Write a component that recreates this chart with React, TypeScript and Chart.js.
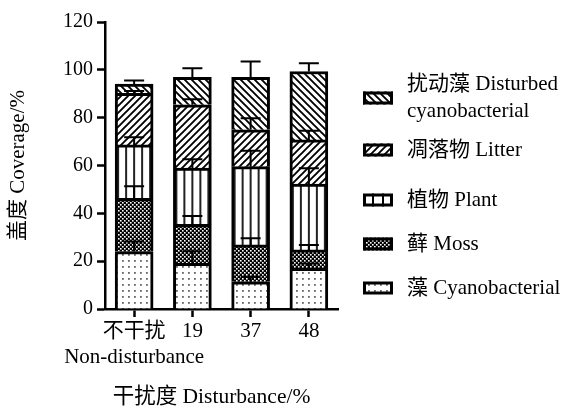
import React, { useEffect, useRef } from 'react';
import { Chart, registerables } from 'chart.js';

Chart.register(...registerables);

const categories: (string | string[])[] = [['不干扰', 'Non-disturbance'], '19', '37', '48'];
const seriesNames = ['藻 Cyanobacterial', '藓 Moss', '植物 Plant', '凋落物 Litter', '扰动藻 Disturbed cyanobacterial'];
const legendLines: string[][] = [
  ['扰动藻 Disturbed', 'cyanobacterial'],
  ['凋落物 Litter'],
  ['植物 Plant'],
  ['藓 Moss'],
  ['藻 Cyanobacterial'],
];
const xTitle = '干扰度 Disturbance/%';
const yTitle = '盖度 Coverage/%';
const cyanobacterial = [24.0, 19.1, 11.4, 17.0];
const moss = [22.3, 16.3, 15.4, 7.7];
const plant = [22.3, 23.5, 32.7, 27.5];
const litter = [21.6, 26.5, 15.4, 18.5];
const disturbed = [3.8, 11.5, 22.0, 28.6];
const cyanobacterialErr = [4.2, 5.0, 2.0, 2.0];
const mossErr = [5.0, 3.5, 2.8, 2.1];
const plantErr = [3.2, 3.7, 6.7, 6.7];
const litterErr = [1.0, 2.3, 4.9, 3.8];
const disturbedErr = [1.5, 3.8, 6.6, 3.5];
const yMin = 0;
const yMax = 120;
const yStep = 20;

const FONT = "'Liberation Serif', 'Noto Sans CJK SC', serif";
const BAR_W = 38;

function tile(w: number, h: number, draw: (c: CanvasRenderingContext2D) => void) {
  const cv = document.createElement('canvas');
  cv.width = w;
  cv.height = h;
  const c = cv.getContext('2d')!;
  c.fillStyle = '#fff';
  c.fillRect(0, 0, w, h);
  draw(c);
  return cv;
}

function makeTiles() {
  const dots = tile(6, 6, (c) => {
    c.fillStyle = '#666';
    c.fillRect(2, 2, 1.8, 1.8);
  });
  const checker = tile(4, 4, (c) => {
    c.fillStyle = '#000';
    c.fillRect(0, 0, 4, 4);
    c.fillStyle = '#fff';
    c.fillRect(0, 0, 1.6, 1.6);
    c.fillRect(2, 2, 1.6, 1.6);
  });
  const vlines = tile(8, 4, (c) => {
    c.fillStyle = '#222';
    c.fillRect(0, 0, 2, 4);
  });
  const diag = (forward: boolean) =>
    tile(7, 7, (c) => {
      c.strokeStyle = '#000';
      c.lineWidth = 1.9;
      c.beginPath();
      if (forward) {
        c.moveTo(-1, 8); c.lineTo(8, -1);
        c.moveTo(-4, 4); c.lineTo(4, -4);
        c.moveTo(3, 11); c.lineTo(11, 3);
      } else {
        c.moveTo(-1, -1); c.lineTo(8, 8);
        c.moveTo(-4, 3); c.lineTo(4, 11);
        c.moveTo(3, -4); c.lineTo(11, 4);
      }
      c.stroke();
    });
  return { dots, checker, vlines, fwd: diag(true), back: diag(false) };
}

const errorBarPlugin = {
  id: 'errorBars',
  afterDatasetsDraw(chart: any) {
    const ctx = chart.ctx;
    const y = chart.scales.y;
    ctx.save();
    ctx.strokeStyle = '#000';
    ctx.lineWidth = 2;
    chart.data.datasets.forEach((ds: any, i: number) => {
      const meta = chart.getDatasetMeta(i);
      meta.data.forEach((el: any, j: number) => {
        let cum = 0;
        for (let k = 0; k <= i; k++) cum += chart.data.datasets[k].data[j];
        const top = y.getPixelForValue(cum + ds.errors[j]);
        ctx.beginPath();
        ctx.moveTo(el.x, el.y);
        ctx.lineTo(el.x, top);
        ctx.moveTo(el.x - 10, top);
        ctx.lineTo(el.x + 10, top);
        ctx.stroke();
      });
    });
    ctx.restore();
  },
};

const xTitlePlugin = {
  id: 'xTitle',
  afterDraw(chart: any, _args: any, opts: any) {
    const ctx = chart.ctx;
    const a = chart.chartArea;
    ctx.save();
    ctx.font = `${opts.fontSize}px ${FONT}`;
    ctx.fillStyle = '#000';
    ctx.textAlign = 'center';
    ctx.textBaseline = 'middle';
    ctx.fillText(opts.text, (a.left + a.right) / 2 + opts.dx, opts.y);
    ctx.restore();
  },
};

const legendPlugin = {
  id: 'customLegend',
  afterDraw(chart: any, _args: any, opts: any) {
    const ctx = chart.ctx;
    const n = chart.data.datasets.length;
    ctx.save();
    ctx.font = `${opts.fontSize}px ${FONT}`;
    ctx.textBaseline = 'middle';
    ctx.fillStyle = '#000';
    for (let r = 0; r < n; r++) {
      const dsIndex = n - 1 - r;
      const ds = chart.data.datasets[dsIndex];
      const cy = opts.rows[r];
      const bx = opts.boxX, bw = opts.boxW, bh = opts.boxH;
      const by = cy - bh / 2;
      ctx.fillStyle = '#fff';
      ctx.fillRect(bx, by, bw, bh);
      if (ds.legendFill === 'cells') {
        ctx.fillStyle = '#000';
        ctx.fillRect(bx + bw / 3 - 1, by, 2, bh);
        ctx.fillRect(bx + (2 * bw) / 3 - 1, by, 2, bh);
      } else {
        ctx.fillStyle = ds.legendFill;
        ctx.fillRect(bx, by, bw, bh);
      }
      ctx.strokeStyle = '#000';
      ctx.lineWidth = 3;
      ctx.strokeRect(bx + 1.5, by + 1.5, bw - 3, bh - 3);
      const lines = legendLines[r];
      ctx.fillStyle = '#000';
      lines.forEach((t: string, li: number) => {
        const ty = cy + (li - (lines.length - 1) / 2) * opts.lineGap;
        ctx.fillText(t, opts.textX, ty);
      });
    }
    ctx.restore();
  },
};

export default function App() {
  const ref = useRef<HTMLCanvasElement | null>(null);
  useEffect(() => {
    const canvas = ref.current!;
    const c2d = canvas.getContext('2d')!;
    const t = makeTiles();
    const pat = (cv: HTMLCanvasElement) => c2d.createPattern(cv, 'repeat')!;
    const plantFill = (ctx: any) => {
      const x = ctx.chart.scales?.x?.getPixelForValue(ctx.dataIndex);
      const p = pat(t.vlines);
      if (Number.isFinite(x)) p.setTransform(new DOMMatrix().translate(x - BAR_W / 2 + 10, 0));
      return p;
    };
    const common = {
      borderColor: '#000',
      borderWidth: { top: 3, left: 3, right: 3, bottom: 0 },
      borderSkipped: false,
      barThickness: BAR_W,
    };
    const chart = new Chart(canvas, {
      type: 'bar',
      data: {
        labels: categories,
        datasets: [
          { label: seriesNames[0], data: cyanobacterial, errors: cyanobacterialErr, backgroundColor: pat(t.dots), legendFill: pat(t.dots), ...common },
          { label: seriesNames[1], data: moss, errors: mossErr, backgroundColor: pat(t.checker), legendFill: pat(t.checker), ...common },
          { label: seriesNames[2], data: plant, errors: plantErr, backgroundColor: plantFill, legendFill: 'cells', ...common },
          { label: seriesNames[3], data: litter, errors: litterErr, backgroundColor: pat(t.fwd), legendFill: pat(t.fwd), ...common },
          { label: seriesNames[4], data: disturbed, errors: disturbedErr, backgroundColor: pat(t.back), legendFill: pat(t.back), ...common },
        ] as any,
      },
      options: {
        animation: false,
        responsive: false,
        events: [],
        layout: { padding: { top: 22, right: 227, bottom: 0, left: 0 } },
        plugins: {
          legend: { display: false },
          tooltip: { enabled: false },
          customLegend: { boxX: 363, boxW: 30, boxH: 13, textX: 407, fontSize: 21, lineGap: 27, rows: [98, 150, 200, 244, 288] },
          xTitle: { text: xTitle, fontSize: 21.5, dx: -10, y: 397 },
        } as any,
        scales: {
          x: {
            stacked: true,
            offset: true,
            grid: { offset: false, drawOnChartArea: false, drawTicks: true, tickLength: 8, tickWidth: 2.5, color: '#000' },
            border: { display: true, width: 2.5, color: '#000' },
            ticks: { color: '#000', font: { family: FONT, size: 21, lineHeight: 1.25 }, padding: 1, maxRotation: 0, autoSkip: false },
            title: { display: false },
            afterFit: (s: any) => { s.height = 99; },
          },
          y: {
            stacked: true,
            min: yMin,
            max: yMax,
            grid: { drawOnChartArea: false, drawTicks: true, tickLength: 8, tickWidth: 2.5, color: '#000' },
            border: { display: true, width: 2.5, color: '#000' },
            ticks: { stepSize: yStep, color: '#000', font: { family: FONT, size: 20 }, padding: 4 },
            title: { display: true, text: yTitle, color: '#000', font: { family: FONT, size: 21, lineHeight: 1.2 }, padding: { top: 6, bottom: 4 } },
            afterFit: (s: any) => { s.width = 105; },
          },
        },
      },
      plugins: [errorBarPlugin, legendPlugin, xTitlePlugin],
    } as any);
    return () => chart.destroy();
  }, []);
  return (
    <div style={{ position: 'absolute', left: 0, top: 0, width: 565, height: 408, background: '#fff' }}>
      <canvas ref={ref} width={565} height={408} style={{ display: 'block', width: 565, height: 408 }} />
    </div>
  );
}
